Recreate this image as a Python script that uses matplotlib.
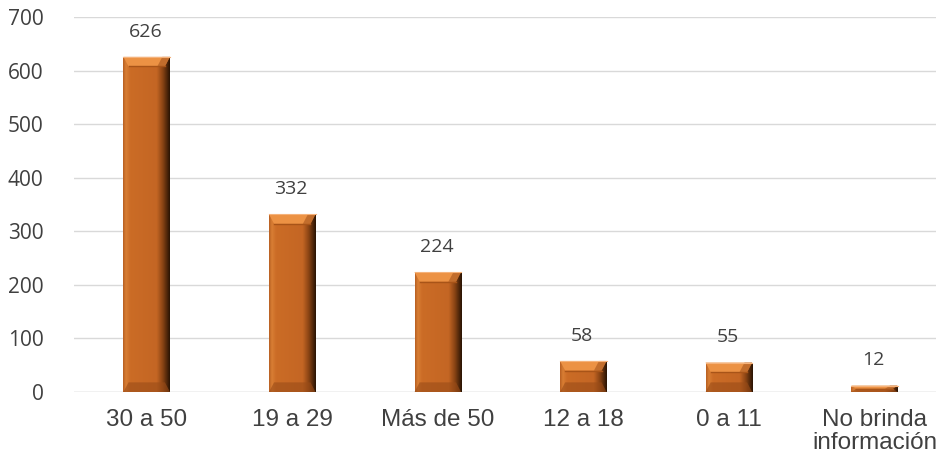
import numpy as np
import matplotlib
matplotlib.use("Agg")
from matplotlib import pyplot as plt
from matplotlib.patches import Polygon
from matplotlib.colors import LinearSegmentedColormap

categories = ["30 a 50", "19 a 29", "Más de 50", "12 a 18", "0 a 11", "No brinda\ninformación"]
values = [626, 332, 224, 58, 55, 12]

plt.rcParams['font.family'] = ['Liberation Sans', 'DejaVu Sans']

fig = plt.figure(figsize=(9.36, 4.65), dpi=100)
ax = fig.add_axes([0.079, 0.157, 0.933, 0.806])

x = np.arange(len(values))
width = 0.32
bars = ax.bar(x, values, width=width, color="#C96A24", zorder=2)

# horizontal shading across each bar (light left edge, dark right edge)
cmap = LinearSegmentedColormap.from_list("bev", [
    (0.0, "#B86022"), (0.06, "#D87E34"), (0.15, "#CB6C26"),
    (0.72, "#C46624"), (0.85, "#8A4414"), (1.0, "#2A1404")])
grad = np.linspace(0, 1, 200).reshape(1, -1)

for b, v in zip(bars, values):
    x0 = b.get_x()
    x1 = x0 + b.get_width()
    im = ax.imshow(grad, cmap=cmap, extent=(x0, x1, 0, v), aspect="auto",
                   zorder=3, interpolation="bilinear")
    im.set_clip_path(b)
    bh = min(18, v / 2)
    sw = 0.035
    top = Polygon([(x0, v), (x1, v), (x1 - sw, v - bh), (x0 + sw, v - bh)],
                  closed=True, facecolor="#EC9244", edgecolor="none", zorder=4)
    ax.add_patch(top)
    ax.plot([x0 + sw, x1 - sw], [v - bh, v - bh], color="#A85418", lw=1.0, zorder=5)
    tr = Polygon([(x1, v), (x1 - sw, v - bh), (x1 - sw * 2.5, v - bh), (x1 - sw * 1.5, v)],
                 closed=True, facecolor="#9A4A16", edgecolor="none", alpha=0.5, zorder=4)
    ax.add_patch(tr)
    bot = Polygon([(x0, 0), (x1, 0), (x1 - sw, bh), (x0 + sw, bh)],
                  closed=True, facecolor="#9A4C18", edgecolor="none", alpha=0.6, zorder=4)
    ax.add_patch(bot)
    ax.plot([x0, x1], [v, v], color="#F5B27A", lw=0.8, zorder=5)
    ax.text(b.get_x() + b.get_width() / 2 - 0.01, v + 47, str(v), ha="center", va="center",
            fontsize=14, color="#404040", family=["Open Sans", "DejaVu Sans"])

ax.set_xlim(-0.5, len(values) - 0.5)
ax.set_ylim(0, 700)
ax.set_yticks(range(0, 701, 100))
ax.set_xticks(x)
ax.set_xticklabels(categories, linespacing=1.1)
ax.grid(axis="y", color="#D9D9D9", lw=1, zorder=0)
ax.set_axisbelow(True)
for s in ax.spines.values():
    s.set_visible(False)
ax.tick_params(axis="both", length=0, colors="#404040")
ax.tick_params(axis="y", labelsize=15, pad=22)
for t in ax.get_yticklabels():
    t.set_family(["Open Sans", "DejaVu Sans"])
ax.tick_params(axis="x", labelsize=17.5, pad=12)
ax.axhline(0, color="#D9D9D9", lw=1, zorder=1)

fig.savefig("out.png", dpi=100)
